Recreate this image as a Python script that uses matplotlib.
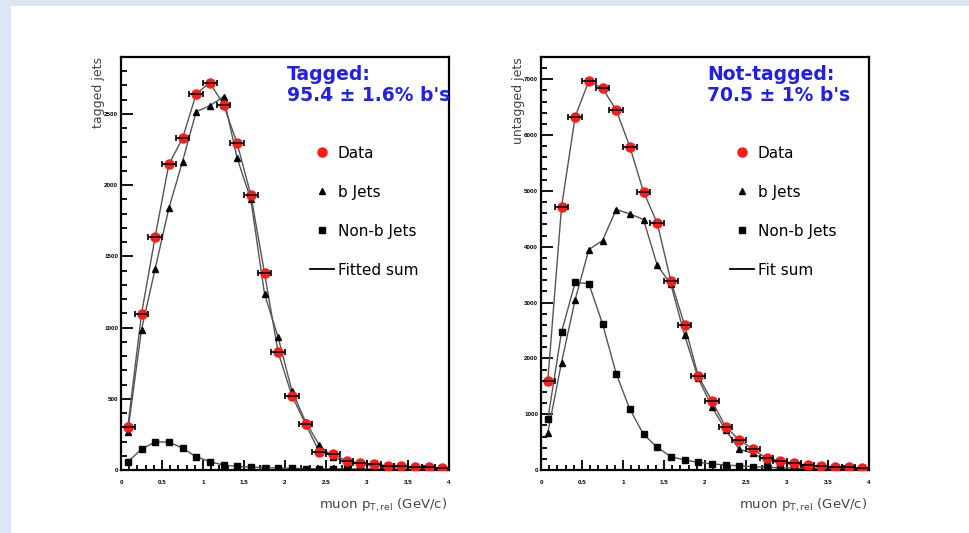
import numpy as np
import matplotlib
matplotlib.use("Agg")
import matplotlib.pyplot as plt
from matplotlib.lines import Line2D
from matplotlib.ticker import FixedLocator, MultipleLocator
from matplotlib.patches import Rectangle

plt.rcParams['font.family'] = ['Liberation Sans', 'DejaVu Sans']

# ---- data -------------------------------------------------------------
bin_centers = np.arange(1, 48, 2) / 12.0  # 24 bins of width 1/6 GeV/c

tag_data = [305, 1096, 1638, 2147, 2328, 2640, 2720, 2565, 2293, 1931, 1383, 826,
            523, 324, 129, 113, 63, 47, 40, 30, 25, 20, 18, 15]
tag_b = [270, 986, 1413, 1837, 2166, 2516, 2558, 2621, 2189, 1900, 1237, 931,
         558, 340, 176, 90, 55, 40, 30, 25, 20, 17, 14, 12]
tag_nonb = [58, 146, 197, 197, 153, 94, 58, 35, 25, 20, 17, 14,
            12, 10, 8, 8, 7, 6, 6, 5, 5, 4, 4, 4]

untag_data = [1603, 4708, 6331, 6970, 6839, 6450, 5792, 4984, 4428, 3390, 2603, 1687,
              1239, 778, 539, 377, 209, 167, 120, 90, 72, 55, 45, 35]
untag_b = [670, 1926, 3052, 3949, 4111, 4667, 4589, 4488, 3670, 3330, 2423, 1646,
           1136, 718, 372, 300, 170, 130, 100, 75, 60, 45, 35, 28]
untag_nonb = [910, 2471, 3360, 3340, 2621, 1729, 1089, 640, 407, 239, 180, 138,
              110, 90, 75, 60, 50, 40, 35, 30, 25, 20, 18, 15]

x_ticks = [0, 0.5, 1, 1.5, 2, 2.5, 3, 3.5, 4]
x_ticklabels = ['0', '0.5', '1', '1.5', '2', '2.5', '3', '3.5', '4']
tag_yticks = [0, 500, 1000, 1500, 2000, 2500]
tag_yticklabels = ['0', '500', '1000', '1500', '2000', '2500']
untag_yticks = [0, 1000, 2000, 3000, 4000, 5000, 6000, 7000]
untag_yticklabels = ['0', '1000', '2000', '3000', '4000', '5000', '6000', '7000']

tag_title = "Tagged:\n95.4 \u00b1 1.6% b's"
untag_title = "Not-tagged:\n70.5 \u00b1 1% b's"

# ---- figure -----------------------------------------------------------
W, H = 969, 533
fig = plt.figure(figsize=(W / 100, H / 100), dpi=100, facecolor='white')

# slide background strips
fig.patches.append(Rectangle((0, 0), 11 / W, 1, transform=fig.transFigure,
                             facecolor='#dbe7f5', edgecolor='none', zorder=0))
fig.patches.append(Rectangle((0, 1 - 6 / H), 1, 6 / H, transform=fig.transFigure,
                             facecolor='#dbe7f5', edgecolor='none', zorder=0))

ax_w = (449 - 121) / W
ax_b = (533 - 470) / H
ax_h = (470 - 57) / H
axL = fig.add_axes([121 / W, ax_b, ax_w, ax_h])
axR = fig.add_axes([541 / W, ax_b, ax_w, ax_h])

BLUE = '#1f1ff0'
LINE = '#555555'
WIDE = ['DejaVu Sans']


def draw_panel(ax, data, bjets, nonb, ymax, yticks, yticklabels, yminor,
               title, ylabel, fitlabel):
    ax.plot(bin_centers, nonb, color=LINE, lw=1.0, zorder=2)
    ax.plot(bin_centers, bjets, color=LINE, lw=1.0, zorder=2)
    ax.plot(bin_centers, data, color=LINE, lw=1.0, zorder=2)
    ax.plot(bin_centers, nonb, 's', color='black', ms=5, zorder=3)
    ax.plot(bin_centers, bjets, '^', color='black', ms=5, zorder=3)
    ax.plot(bin_centers, data, 'o', color='#ff1a1a', mec='#ff1a1a', ms=6.5, zorder=4)
    ax.errorbar(bin_centers, data, xerr=1 / 12, fmt='none', ecolor='black',
                elinewidth=1.2, capsize=2.5, capthick=1.2, zorder=5)

    ax.set_xlim(0, 4)
    ax.set_ylim(0, ymax)
    ax.xaxis.set_major_locator(FixedLocator(x_ticks))
    ax.set_xticklabels(x_ticklabels)
    ax.xaxis.set_minor_locator(MultipleLocator(0.1))
    ax.yaxis.set_major_locator(FixedLocator(yticks))
    ax.set_yticklabels(yticklabels)
    ax.yaxis.set_minor_locator(MultipleLocator(yminor))

    ax.tick_params(which='both', direction='in', width=1.3, colors='black')
    ax.tick_params(axis='y', which='major', length=8.5, pad=2, labelsize=4.5)
    ax.tick_params(axis='y', which='minor', length=4.2)
    ax.tick_params(axis='x', which='major', length=7, pad=7, labelsize=4.5)
    ax.tick_params(axis='x', which='minor', length=3.5)
    for lab in ax.get_xticklabels() + ax.get_yticklabels():
        lab.set_fontweight('bold')
    for sp in ax.spines.values():
        sp.set_linewidth(1.6)

    ax.text(0.506, 0.98, title, transform=ax.transAxes, ha='left', va='top',
            color=BLUE, fontsize=13.5, fontweight='bold', linespacing=1.12,
            family=WIDE)

    handles = [
        Line2D([], [], marker='o', ls='none', color='#ff1a1a', ms=6.5),
        Line2D([], [], marker='^', ls='none', color='black', ms=5),
        Line2D([], [], marker='s', ls='none', color='black', ms=5),
        Line2D([], [], color='black', lw=1.3),
    ]
    labels = ['Data', 'b Jets', 'Non-b Jets', fitlabel]
    ax.legend(handles, labels, loc='upper left',
              bbox_to_anchor=(0.575, 0.785), frameon=False,
              prop={'family': WIDE, 'size': 11},
              handlelength=1.6, handletextpad=0.25, labelspacing=1.57,
              borderpad=0, borderaxespad=0)

    ax.text(-0.07, 1.0, ylabel, transform=ax.transAxes, rotation=90,
            ha='center', va='top', fontsize=9, color='#444444', family=WIDE)
    ax.text(0.995, -0.085, 'muon p$_{\\mathregular{T,rel}}$ (GeV/c)',
            transform=ax.transAxes, ha='right', va='center',
            fontsize=9.5, color='#444444', family=WIDE)


draw_panel(axL, tag_data, tag_b, tag_nonb, 2900, tag_yticks, tag_yticklabels,
           100, tag_title, 'tagged jets', 'Fitted sum')
draw_panel(axR, untag_data, untag_b, untag_nonb, 7400, untag_yticks,
           untag_yticklabels, 200, untag_title, 'untagged jets', 'Fit sum')

fig.savefig('out.png', dpi=100, facecolor=fig.get_facecolor())
